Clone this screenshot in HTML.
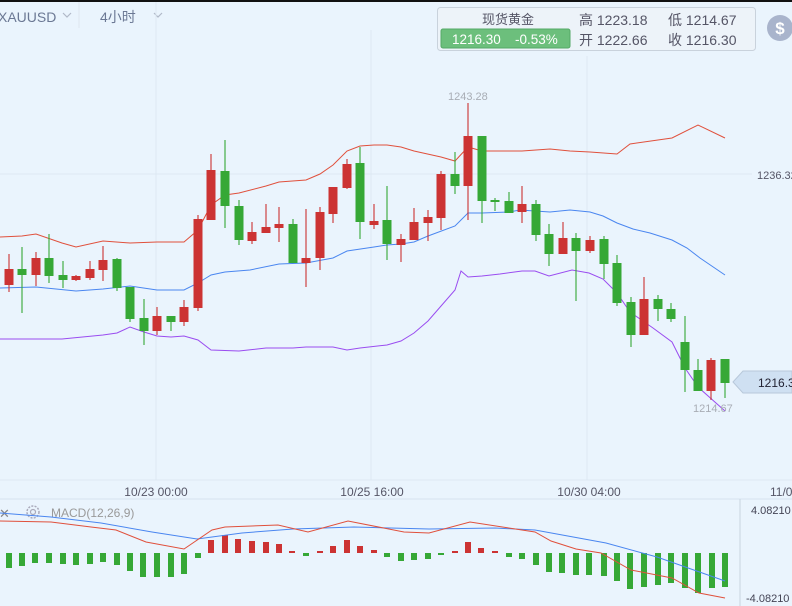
<!DOCTYPE html>
<html><head><meta charset="utf-8"><style>
html,body{margin:0;padding:0;background:#eaf4fd;}
svg{display:block;font-family:"Liberation Sans","Noto Sans CJK SC",sans-serif;}
</style></head><body>
<svg width="792" height="606" viewBox="0 0 792 606" xmlns="http://www.w3.org/2000/svg">
<rect width="792" height="606" fill="#eaf4fd"/>
<rect width="792" height="2" fill="#111"/>
<!-- header -->
<text x="-2" y="22" font-size="14" fill="#6b7894">XAUUSD</text>
<path d="M63 13 l4 4 l4 -4" fill="none" stroke="#b0b8c8" stroke-width="1.2"/>
<line x1="79" y1="2" x2="79" y2="28" stroke="#dde6f0"/>
<text x="100" y="22" font-size="14" fill="#6b7894">4小时</text>
<path d="M154 13 l4 4 l4 -4" fill="none" stroke="#b0b8c8" stroke-width="1.2"/>
<line x1="156" y1="2" x2="156" y2="480" stroke="#dde8f2"/>
<line x1="371" y1="30" x2="371" y2="480" stroke="#dde8f2"/>
<line x1="587" y1="56" x2="587" y2="480" stroke="#dde8f2"/>
<line x1="0" y1="174" x2="752" y2="174" stroke="#dde8f2"/>
<rect x="437.5" y="7.5" width="318" height="43" rx="3" fill="#edf3f9" stroke="#c9d2dc"/>
<text x="508" y="24" font-size="13" fill="#556" text-anchor="middle">现货黄金</text>
<rect x="441" y="29" width="129" height="19" rx="2" fill="#6cbf7c" stroke="#55a866"/>
<text x="452" y="44" font-size="13.5" fill="#fff">1216.30</text>
<text x="515" y="44" font-size="13.5" fill="#fff">-0.53%</text>
<text x="579" y="25" font-size="14" fill="#556">高 1223.18</text>
<text x="668" y="25" font-size="14" fill="#556">低 1214.67</text>
<text x="579" y="45" font-size="14" fill="#556">开 1222.66</text>
<text x="668" y="45" font-size="14" fill="#556">收 1216.30</text>
<circle cx="780" cy="28" r="13" fill="#a9b4cc"/>
<text x="780" y="34" font-size="17" font-weight="bold" fill="#fff" text-anchor="middle">$</text>
<text x="757" y="179" font-size="11" fill="#556">1236.32</text>
<!-- bands -->
<polyline fill="none" stroke="#e0503c" stroke-width="1" points="0,237 22,236 36,234 62,243 76,247 103,241 130,243 157,242 184,242 198,230 211,205 225,195 239,193 266,186 279,182 306,180 320,174 333,165 347,151 360,146 374,145 387,145 401,147 414,151 441,157 455,161 468,147 482,151 522,151 550,149 570,151 590,152 617,154 630,144 672,138 698,125 725,138"/>
<polyline fill="none" stroke="#4a86f0" stroke-width="1" points="0,288 36,287 76,291 103,289 130,286 157,290 184,290 198,283 211,275 225,272 250,270 279,264 306,263 333,258 347,251 374,247 387,245 401,244 414,242 428,236 455,226 468,213 482,213 509,212 520,210 550,212 570,210 590,212 603,216 617,223 633,229 650,233 672,240 687,248 700,258 725,275"/>
<polyline fill="none" stroke="#9a4cf0" stroke-width="1" points="0,339 36,339 62,339 103,335 117,333 130,327 144,332 157,336 171,337 184,336 198,340 211,350 239,351 266,348 293,348 306,347 333,347 347,350 360,348 387,345 401,341 414,333 428,321 455,290 461,271 468,277 482,276 500,274 522,271 535,271 549,276 572,270 589,273 603,279 617,293 630,312 653,328 672,342 685,368 698,387 725,411"/>
<!-- candles -->
<g stroke-width="2" opacity="0.55">
<line x1="9" y1="254" x2="9" y2="292" stroke="#cc3333"/><line x1="22" y1="247" x2="22" y2="313" stroke="#36a836"/><line x1="36" y1="252" x2="36" y2="286" stroke="#cc3333"/><line x1="49" y1="234" x2="49" y2="283" stroke="#36a836"/><line x1="63" y1="261" x2="63" y2="288" stroke="#36a836"/><line x1="76" y1="275" x2="76" y2="281" stroke="#cc3333"/><line x1="90" y1="261" x2="90" y2="280" stroke="#cc3333"/><line x1="103" y1="246" x2="103" y2="281" stroke="#cc3333"/><line x1="117" y1="258" x2="117" y2="291" stroke="#36a836"/><line x1="130" y1="287" x2="130" y2="322" stroke="#36a836"/><line x1="144" y1="299" x2="144" y2="345" stroke="#36a836"/><line x1="157" y1="307" x2="157" y2="335" stroke="#cc3333"/><line x1="171" y1="316" x2="171" y2="331" stroke="#36a836"/><line x1="184" y1="300" x2="184" y2="326" stroke="#cc3333"/><line x1="198" y1="215" x2="198" y2="311" stroke="#cc3333"/><line x1="211" y1="154" x2="211" y2="220" stroke="#cc3333"/><line x1="225" y1="140" x2="225" y2="228" stroke="#36a836"/><line x1="239" y1="200" x2="239" y2="245" stroke="#36a836"/><line x1="252" y1="222" x2="252" y2="244" stroke="#cc3333"/><line x1="266" y1="204" x2="266" y2="233" stroke="#cc3333"/><line x1="279" y1="207" x2="279" y2="242" stroke="#cc3333"/><line x1="293" y1="219" x2="293" y2="263" stroke="#36a836"/><line x1="306" y1="209" x2="306" y2="287" stroke="#cc3333"/><line x1="320" y1="207" x2="320" y2="270" stroke="#cc3333"/><line x1="333" y1="187" x2="333" y2="223" stroke="#cc3333"/><line x1="347" y1="159" x2="347" y2="189" stroke="#cc3333"/><line x1="360" y1="147" x2="360" y2="239" stroke="#36a836"/><line x1="374" y1="204" x2="374" y2="229" stroke="#cc3333"/><line x1="387" y1="186" x2="387" y2="260" stroke="#36a836"/><line x1="401" y1="234" x2="401" y2="262" stroke="#cc3333"/><line x1="414" y1="208" x2="414" y2="240" stroke="#cc3333"/><line x1="428" y1="210" x2="428" y2="241" stroke="#cc3333"/><line x1="441" y1="171" x2="441" y2="230" stroke="#cc3333"/><line x1="455" y1="152" x2="455" y2="194" stroke="#36a836"/><line x1="468" y1="103" x2="468" y2="220" stroke="#cc3333"/><line x1="482" y1="136" x2="482" y2="223" stroke="#36a836"/><line x1="495" y1="198" x2="495" y2="211" stroke="#36a836"/><line x1="509" y1="192" x2="509" y2="213" stroke="#36a836"/><line x1="522" y1="186" x2="522" y2="223" stroke="#cc3333"/><line x1="536" y1="200" x2="536" y2="241" stroke="#36a836"/><line x1="549" y1="224" x2="549" y2="266" stroke="#36a836"/><line x1="563" y1="222" x2="563" y2="254" stroke="#cc3333"/><line x1="576" y1="233" x2="576" y2="301" stroke="#36a836"/><line x1="590" y1="236" x2="590" y2="253" stroke="#cc3333"/><line x1="604" y1="236" x2="604" y2="279" stroke="#36a836"/><line x1="617" y1="255" x2="617" y2="306" stroke="#36a836"/><line x1="631" y1="297" x2="631" y2="347" stroke="#36a836"/><line x1="644" y1="277" x2="644" y2="335" stroke="#cc3333"/><line x1="658" y1="295" x2="658" y2="321" stroke="#36a836"/><line x1="671" y1="303" x2="671" y2="322" stroke="#36a836"/><line x1="685" y1="316" x2="685" y2="392" stroke="#36a836"/><line x1="698" y1="359" x2="698" y2="391" stroke="#36a836"/><line x1="711" y1="358" x2="711" y2="400" stroke="#cc3333"/><line x1="725" y1="359" x2="725" y2="398" stroke="#36a836"/>
</g>
<g>
<rect x="4.5" y="269" width="9" height="16" fill="#cc3333"/><rect x="17.5" y="269" width="9" height="6" fill="#36a836"/><rect x="31.5" y="258" width="9" height="17" fill="#cc3333"/><rect x="44.5" y="258" width="9" height="18" fill="#36a836"/><rect x="58.5" y="275" width="9" height="5" fill="#36a836"/><rect x="71.5" y="276" width="9" height="4" fill="#cc3333"/><rect x="85.5" y="269" width="9" height="9" fill="#cc3333"/><rect x="98.5" y="260" width="9" height="10" fill="#cc3333"/><rect x="112.5" y="259" width="9" height="29" fill="#36a836"/><rect x="125.5" y="287" width="9" height="32" fill="#36a836"/><rect x="139.5" y="318" width="9" height="13" fill="#36a836"/><rect x="152.5" y="316" width="9" height="15" fill="#cc3333"/><rect x="166.5" y="316" width="9" height="6" fill="#36a836"/><rect x="179.5" y="307" width="9" height="15" fill="#cc3333"/><rect x="193.5" y="219" width="9" height="89" fill="#cc3333"/><rect x="206.5" y="170" width="9" height="50" fill="#cc3333"/><rect x="220.5" y="171" width="9" height="35" fill="#36a836"/><rect x="234.5" y="206" width="9" height="34" fill="#36a836"/><rect x="247.5" y="232" width="9" height="9" fill="#cc3333"/><rect x="261.5" y="227" width="9" height="6" fill="#cc3333"/><rect x="274.5" y="224" width="9" height="4" fill="#cc3333"/><rect x="288.5" y="224" width="9" height="39" fill="#36a836"/><rect x="301.5" y="258" width="9" height="5" fill="#cc3333"/><rect x="315.5" y="212" width="9" height="46" fill="#cc3333"/><rect x="328.5" y="187" width="9" height="27" fill="#cc3333"/><rect x="342.5" y="164" width="9" height="24" fill="#cc3333"/><rect x="355.5" y="163" width="9" height="59" fill="#36a836"/><rect x="369.5" y="221" width="9" height="4" fill="#cc3333"/><rect x="382.5" y="220" width="9" height="24" fill="#36a836"/><rect x="396.5" y="239" width="9" height="6" fill="#cc3333"/><rect x="409.5" y="222" width="9" height="18" fill="#cc3333"/><rect x="423.5" y="217" width="9" height="6" fill="#cc3333"/><rect x="436.5" y="174" width="9" height="44" fill="#cc3333"/><rect x="450.5" y="174" width="9" height="12" fill="#36a836"/><rect x="463.5" y="136" width="9" height="50" fill="#cc3333"/><rect x="477.5" y="136" width="9" height="65" fill="#36a836"/><rect x="490.5" y="200" width="9" height="2" fill="#36a836"/><rect x="504.5" y="201" width="9" height="12" fill="#36a836"/><rect x="517.5" y="204" width="9" height="8" fill="#cc3333"/><rect x="531.5" y="204" width="9" height="31" fill="#36a836"/><rect x="544.5" y="234" width="9" height="20" fill="#36a836"/><rect x="558.5" y="238" width="9" height="16" fill="#cc3333"/><rect x="571.5" y="238" width="9" height="13" fill="#36a836"/><rect x="585.5" y="240" width="9" height="11" fill="#cc3333"/><rect x="599.5" y="239" width="9" height="25" fill="#36a836"/><rect x="612.5" y="263" width="9" height="40" fill="#36a836"/><rect x="626.5" y="302" width="9" height="33" fill="#36a836"/><rect x="639.5" y="299" width="9" height="36" fill="#cc3333"/><rect x="653.5" y="299" width="9" height="10" fill="#36a836"/><rect x="666.5" y="309" width="9" height="10" fill="#36a836"/><rect x="680.5" y="342" width="9" height="28" fill="#36a836"/><rect x="693.5" y="370" width="9" height="21" fill="#36a836"/><rect x="706.5" y="360" width="9" height="31" fill="#cc3333"/><rect x="720.5" y="359" width="9" height="24" fill="#36a836"/>
</g>
<text x="448" y="100" font-size="11" fill="#a8adb5">1243.28</text>
<text x="693" y="412" font-size="11" fill="#a8adb5">1214.67</text>
<path d="M733 382 L743 371 L792 371 L792 393 L743 393 Z" fill="#cfe0f2" stroke="#b8c8da"/>
<text x="758" y="387" font-size="12" fill="#223">1216.3</text>
<!-- time axis -->
<line x1="0" y1="480" x2="792" y2="480" stroke="#dde8f2"/>
<text x="156" y="496" font-size="12" fill="#556" text-anchor="middle">10/23 00:00</text>
<text x="372" y="496" font-size="12" fill="#556" text-anchor="middle">10/25 16:00</text>
<text x="589" y="496" font-size="12" fill="#556" text-anchor="middle">10/30 04:00</text>
<text x="770" y="496" font-size="12" fill="#556">11/0</text>
<!-- macd pane -->
<line x1="0" y1="499" x2="792" y2="499" stroke="#d6e2ee"/>
<line x1="740" y1="499" x2="740" y2="606" stroke="#c8d4e0"/>
<text x="751" y="514" font-size="11" fill="#445">4.08210</text>
<text x="746" y="602" font-size="11" fill="#445">-4.08210</text>
<text x="-1" y="518" font-size="13" fill="#888">✕</text>
<circle cx="33" cy="512" r="6" fill="none" stroke="#aab" stroke-width="1.5" stroke-dasharray="2 1.3"/>
<circle cx="33" cy="512" r="2.5" fill="none" stroke="#aab" stroke-width="1.2"/>
<text x="51" y="517" font-size="12" fill="#999">MACD(12,26,9)</text>
<g>
<rect x="6" y="553" width="6" height="15" fill="#36a836"/><rect x="19" y="553" width="6" height="13" fill="#36a836"/><rect x="32" y="553" width="6" height="10" fill="#36a836"/><rect x="46" y="553" width="6" height="10" fill="#36a836"/><rect x="60" y="553" width="6" height="11" fill="#36a836"/><rect x="73" y="553" width="6" height="12" fill="#36a836"/><rect x="87" y="553" width="6" height="11" fill="#36a836"/><rect x="100" y="553" width="6" height="9" fill="#36a836"/><rect x="114" y="553" width="6" height="12" fill="#36a836"/><rect x="127" y="553" width="6" height="18" fill="#36a836"/><rect x="140" y="553" width="6" height="24" fill="#36a836"/><rect x="154" y="553" width="6" height="24" fill="#36a836"/><rect x="168" y="553" width="6" height="24" fill="#36a836"/><rect x="181" y="553" width="6" height="21" fill="#36a836"/><rect x="195" y="553" width="6" height="5" fill="#36a836"/>
<rect x="208" y="540" width="6" height="13" fill="#cc3333"/><rect x="222" y="535" width="6" height="18" fill="#cc3333"/><rect x="235" y="539" width="6" height="14" fill="#cc3333"/><rect x="249" y="541" width="6" height="12" fill="#cc3333"/><rect x="263" y="542" width="6" height="11" fill="#cc3333"/><rect x="276" y="544" width="6" height="9" fill="#cc3333"/><rect x="289" y="551" width="6" height="2" fill="#cc3333"/><rect x="303" y="553" width="6" height="3" fill="#36a836"/><rect x="317" y="551" width="6" height="2" fill="#cc3333"/><rect x="330" y="546" width="6" height="7" fill="#cc3333"/><rect x="344" y="540" width="6" height="13" fill="#cc3333"/><rect x="357" y="546" width="6" height="7" fill="#cc3333"/><rect x="371" y="550" width="6" height="3" fill="#cc3333"/><rect x="384" y="553" width="6" height="4" fill="#36a836"/><rect x="398" y="553" width="6" height="8" fill="#36a836"/><rect x="411" y="553" width="6" height="7" fill="#36a836"/><rect x="425" y="553" width="6" height="6" fill="#36a836"/><rect x="438" y="553" width="6" height="2" fill="#36a836"/><rect x="452" y="551" width="6" height="2" fill="#cc3333"/><rect x="465" y="542" width="6" height="11" fill="#cc3333"/><rect x="478" y="548" width="6" height="5" fill="#cc3333"/><rect x="492" y="551" width="6" height="2" fill="#cc3333"/><rect x="506" y="553" width="6" height="4" fill="#36a836"/><rect x="519" y="553" width="6" height="6" fill="#36a836"/><rect x="533" y="553" width="6" height="12" fill="#36a836"/><rect x="546" y="553" width="6" height="19" fill="#36a836"/><rect x="559" y="553" width="6" height="20" fill="#36a836"/><rect x="573" y="553" width="6" height="22" fill="#36a836"/><rect x="586" y="553" width="6" height="22" fill="#36a836"/><rect x="601" y="553" width="6" height="23" fill="#36a836"/><rect x="614" y="553" width="6" height="28" fill="#36a836"/><rect x="627" y="553" width="6" height="36" fill="#36a836"/><rect x="641" y="553" width="6" height="34" fill="#36a836"/><rect x="655" y="553" width="6" height="32" fill="#36a836"/><rect x="668" y="553" width="6" height="30" fill="#36a836"/><rect x="682" y="553" width="6" height="35" fill="#36a836"/><rect x="695" y="553" width="6" height="40" fill="#36a836"/><rect x="709" y="553" width="6" height="35" fill="#36a836"/><rect x="722" y="553" width="6" height="34" fill="#36a836"/>
</g>
<polyline fill="none" stroke="#4a86f0" stroke-width="1" points="0,513 51,517 101,523 152,532 197,539 242,533 293,529 354,527 429,529 495,528 535,530 606,543 657,557 725,581"/>
<polyline fill="none" stroke="#e0503c" stroke-width="1" points="0,521 51,522 91,527 116,530 146,542 184,549 212,530 225,527 278,525 308,532 348,521 404,532 429,533 470,522 535,532 551,541 576,549 601,553 631,570 672,578 699,593 725,598"/>
</svg>
</body></html>
